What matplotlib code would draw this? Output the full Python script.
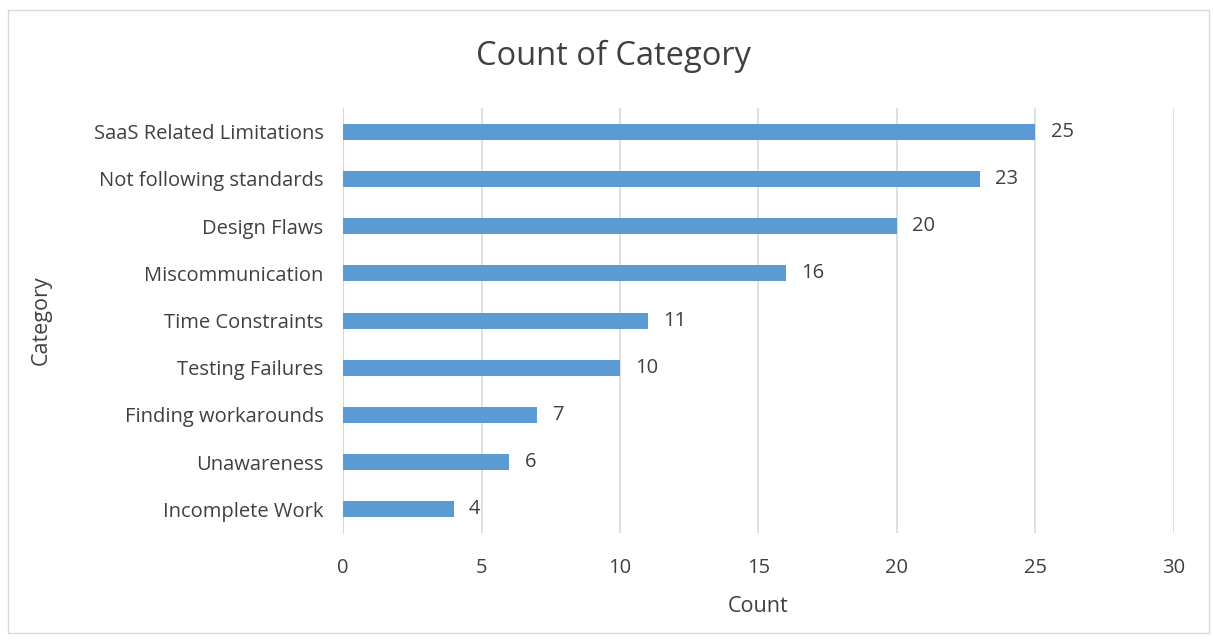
import matplotlib.pyplot as plt
from matplotlib.patches import Rectangle

categories = ['Incomplete Work', 'Unawareness', 'Finding workarounds', 'Testing Failures',
              'Time Constraints', 'Miscommunication', 'Design Flaws',
              'Not following standards', 'SaaS Related Limitations']
counts = [4, 6, 7, 10, 11, 16, 20, 23, 25]
xticks = [0, 5, 10, 15, 20, 25, 30]

plt.rcParams['font.family'] = ['Open Sans', 'DejaVu Sans']
txt = '#404040'

fig = plt.figure(figsize=(12.13, 6.43), dpi=100)
ax = fig.add_axes([0.2828, 0.171, 0.685, 0.661])

ax.barh(range(len(categories)), counts, height=0.34, color='#5B9BD5', zorder=3)
for i, v in enumerate(counts):
    ax.text(v + 0.55, i, str(v), va='center', ha='left', fontsize=14.5, color='#404040')

ax.set_xlim(0, 30)
ax.set_ylim(-0.5, len(categories) - 0.5)
ax.set_xticks(xticks)
ax.set_yticks(range(len(categories)))
ax.set_yticklabels(categories)
ax.tick_params(axis='both', length=0, labelsize=14.5, labelcolor=txt)
ax.tick_params(axis='x', pad=18)
ax.tick_params(axis='y', pad=14)
ax.grid(axis='x', color='#D9D9D9', linewidth=1.2, zorder=0)
for s in ['top', 'right', 'bottom']:
    ax.spines[s].set_visible(False)
ax.spines['left'].set_color('#D9D9D9')

ax.set_xlabel('Count', fontsize=15.5, color=txt, labelpad=13)
ax.set_ylabel('Category', fontsize=15.5, color=txt, labelpad=30)
fig.text(0.506, 0.912, 'Count of Category', ha='center', va='center', fontsize=23.5, color=txt)

fig.patches.append(Rectangle((0.007, 0.015), 0.99, 0.97, transform=fig.transFigure,
                             fill=False, edgecolor='#D9D9D9', linewidth=1))

fig.savefig('out.png', dpi=100)
